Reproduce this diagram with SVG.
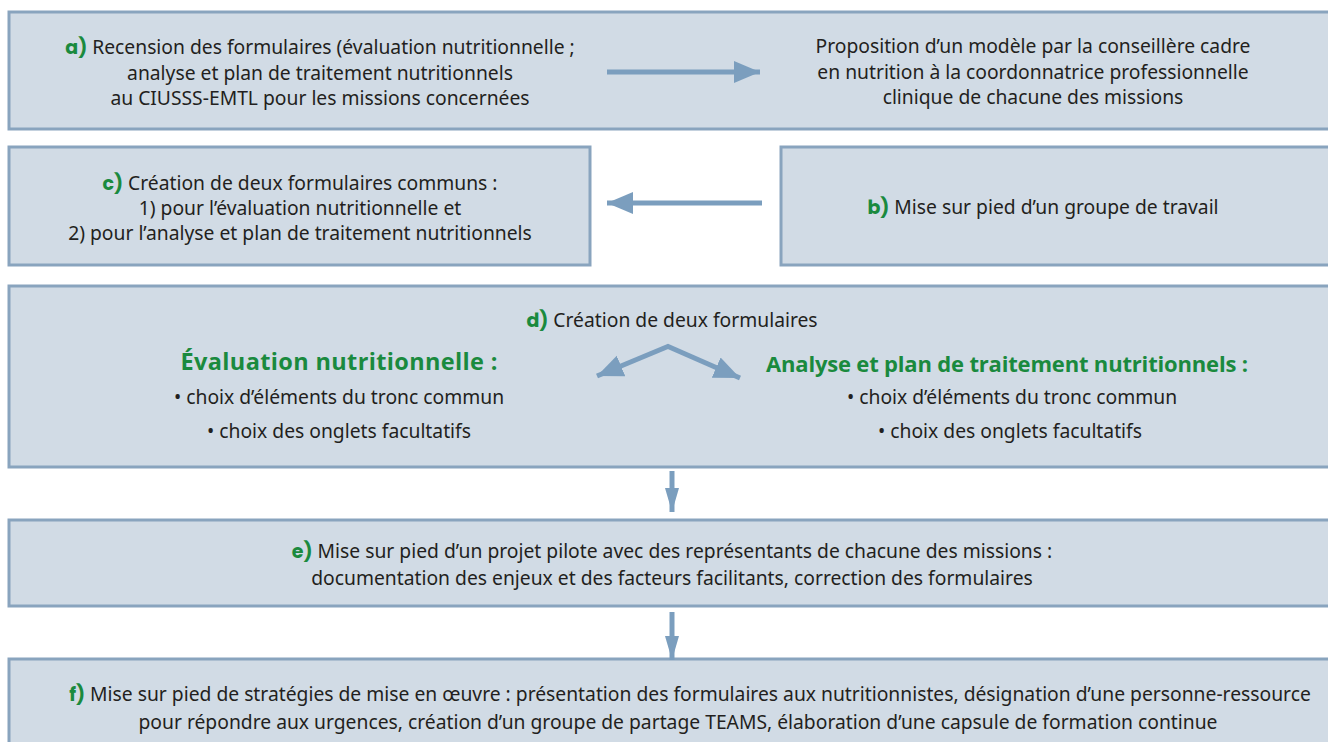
<svg xmlns="http://www.w3.org/2000/svg" width="1328" height="742" viewBox="0 0 1328 742">
<defs>
<style>
.box{fill:#d1dbe5;stroke:#89a4be;stroke-width:3}
.t{font-family:"Noto Sans","Open Sans",sans-serif;font-size:19.3px;fill:#231f20;text-anchor:middle}
.l{font-family:"Poppins","Open Sans","Noto Sans",sans-serif;font-weight:bold;fill:#1a8a3e;font-size:19px}
.h{font-family:"Open Sans","Noto Sans",sans-serif;font-weight:bold;font-size:22px;fill:#1a8a3e;text-anchor:middle}
.c{fill:none;stroke:#7b9ebe;stroke-width:5}
</style>
<marker id="ah" markerUnits="userSpaceOnUse" markerWidth="30" markerHeight="24" refX="26" refY="12" orient="auto">
<path d="M0,1 L26,12 L0,23 Z" fill="#7b9ebe"/>
</marker>
<marker id="ahn" markerUnits="userSpaceOnUse" markerWidth="26" markerHeight="20" refX="24" refY="10" orient="auto">
<path d="M0,3 L24,10 L0,17 Z" fill="#7b9ebe"/>
</marker>
</defs>
<rect width="1328" height="742" fill="#ffffff"/>

<g id="node-a">
<rect class="box" x="9" y="12" width="1330" height="117"/>
<text class="t" x="320" y="54"><tspan class="l">a)</tspan> Recension des formulaires (évaluation nutritionnelle ;</text>
<text class="t" x="320" y="80">analyse et plan de traitement nutritionnels</text>
<text class="t" x="320" y="105">au CIUSSS-EMTL pour les missions concernées</text>
</g>
<g id="node-a2">
<text class="t" x="1033" y="53">Proposition d’un modèle par la conseillère cadre</text>
<text class="t" x="1033" y="79">en nutrition à la coordonnatrice professionnelle</text>
<text class="t" x="1033" y="104">clinique de chacune des missions</text>
</g>

<g id="node-c">
<rect class="box" x="9" y="147" width="581" height="118"/>
<text class="t" x="300" y="190"><tspan class="l">c)</tspan> Création de deux formulaires communs :</text>
<text class="t" x="300" y="215">1) pour l’évaluation nutritionnelle et</text>
<text class="t" x="300" y="240">2) pour l’analyse et plan de traitement nutritionnels</text>
</g>

<g id="node-b">
<rect class="box" x="781" y="147" width="560" height="118"/>
<text class="t" x="1043" y="214"><tspan class="l">b)</tspan> Mise sur pied d’un groupe de travail</text>
</g>

<g id="node-d">
<rect class="box" x="9" y="286" width="1330" height="181"/>
<text class="t" x="672" y="327"><tspan class="l">d)</tspan> Création de deux formulaires</text>
<text class="h" x="339" y="370" style="font-size:23.5px" textLength="317" lengthAdjust="spacing">Évaluation nutritionnelle :</text>
<text class="t" x="339" y="404">• choix d’éléments du tronc commun</text>
<text class="t" x="339" y="438">• choix des onglets facultatifs</text>
<text class="h" x="1007" y="372" textLength="482" lengthAdjust="spacing">Analyse et plan de traitement nutritionnels :</text>
<text class="t" x="1012" y="404">• choix d’éléments du tronc commun</text>
<text class="t" x="1010" y="438">• choix des onglets facultatifs</text>
</g>

<g id="node-e">
<rect class="box" x="9" y="520" width="1330" height="86"/>
<text class="t" x="672" y="558"><tspan class="l">e)</tspan> Mise sur pied d’un projet pilote avec des représentants de chacune des missions :</text>
<text class="t" x="672" y="585">documentation des enjeux et des facteurs facilitants, correction des formulaires</text>
</g>

<g id="node-f">
<rect class="box" x="9" y="659" width="1330" height="100"/>
<text class="t" x="690" y="701"><tspan class="l">f)</tspan> Mise sur pied de stratégies de mise en œuvre : présentation des formulaires aux nutritionnistes, désignation d’une personne-ressource</text>
<text class="t" x="678" y="729">pour répondre aux urgences, création d’un groupe de partage TEAMS, élaboration d’une capsule de formation continue</text>
</g>

<g id="connectors">
<line class="c" x1="607" y1="72" x2="760" y2="72" marker-end="url(#ah)"/>
<line class="c" x1="762" y1="203" x2="607" y2="203" marker-end="url(#ah)"/>
<line class="c" x1="669" y1="346" x2="597" y2="376" marker-end="url(#ah)"/>
<line class="c" x1="667" y1="346" x2="740" y2="378" marker-end="url(#ah)"/>
<line class="c" x1="672" y1="471" x2="672" y2="512" marker-end="url(#ahn)"/>
<line class="c" x1="672" y1="612" x2="672" y2="660" marker-end="url(#ahn)"/>
</g>
</svg>
